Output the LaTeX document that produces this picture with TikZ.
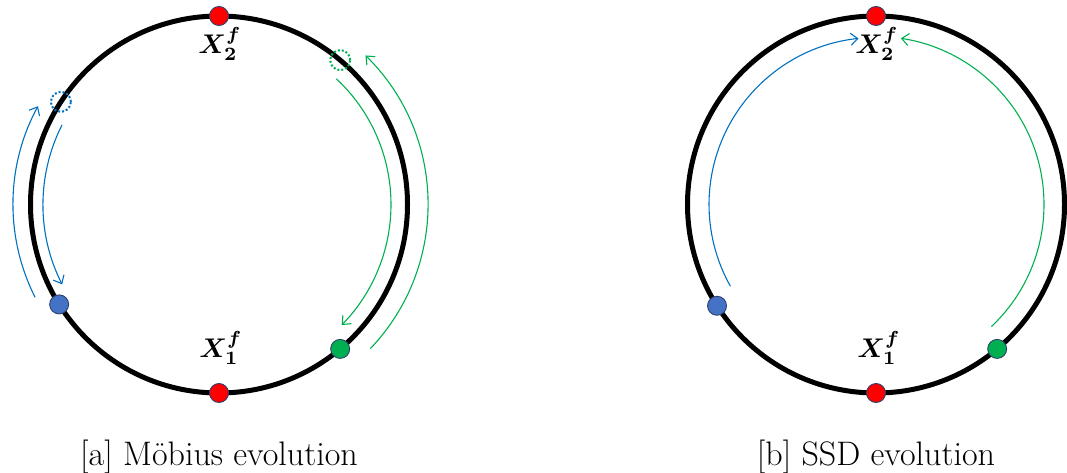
\documentclass[tikz,border=0pt]{standalone}
\usepackage{fontspec}
\usetikzlibrary{arrows.meta,calc}
\definecolor{dotred}{HTML}{FF0000}
\definecolor{dotblue}{HTML}{4472C4}
\definecolor{dotgreen}{HTML}{00B050}
\definecolor{dotedge}{HTML}{2F3F6F}
\definecolor{arrblue}{HTML}{0070C0}
\definecolor{arrgreen}{HTML}{00B050}
\begin{document}
\begin{tikzpicture}[x=1pt,y=1pt,
  ring/.style={line width=5pt,draw=black},
  dotnode/.style={circle,draw=dotedge,line width=0.9pt,minimum size=19pt,inner sep=0pt},
  ghost/.style={circle,draw=#1,dotted,line width=2pt,minimum size=20pt,inner sep=0pt},
  trail/.style={line width=1.1pt,draw=#1,-{Straight Barb[length=7pt,width=12pt]}},
  lab/.style={inner sep=0pt,font=\boldmath,scale=2.7,transform shape},
  captext/.style={inner sep=0pt,font=\fontsize{34}{40}\selectfont}]
\useasboundingbox (0,0) rectangle (1067,472);
% centres
\coordinate (L) at (219,267.5);
\coordinate (R) at (876,267.5);
\draw[ring] (L) circle[radius=188.5];
\draw[ring] (R) circle[radius=188.5];
% ---------- left ----------
\draw[trail=arrblue] ($(L)+(206.8:206)$) arc[start angle=206.8,end angle=151.5,radius=206];
\draw[trail=arrblue] ($(L)+(153.1:176)$) arc[start angle=153.1,end angle=207,radius=176];
\draw[trail=arrgreen] ($(L)+(47:172)$) arc[start angle=47,end angle=-44.5,radius=172];
\draw[trail=arrgreen] ($(L)+(-43.6:209)$) arc[start angle=-43.6,end angle=45.5,radius=209];
\node[ghost=arrblue] (gb) at ($(L)+(147:188.5)$) {};
\node[ghost=arrgreen] (gg) at ($(L)+(50:188.5)$) {};
\node[dotnode,fill=dotred] (lt) at ($(L)+(90:188.5)$) {};
\node[dotnode,fill=dotred] (lb) at ($(L)+(270:188.5)$) {};
\node[dotnode,fill=dotblue] (lbl) at ($(L)+(212:188.5)$) {};
\node[dotnode,fill=dotgreen] (lgr) at ($(L)+(-50:188.5)$) {};
\node[lab] (lx2) at (220,428) {$X_2^f$};
\node[lab] (lx1) at (221,124) {$X_1^f$};
\node[captext] (capa) at (219,15) {[a] Möbius evolution};
% ---------- right ----------
\draw[trail=arrblue] ($(R)+(209.3:167)$) arc[start angle=209.3,end angle=96,radius=167];
\draw[trail=arrgreen] ($(R)+(-46.6:168)$) arc[start angle=-46.6,end angle=81.5,radius=168];
\node[dotnode,fill=dotred] (rt) at ($(R)+(90:188.5)$) {};
\node[dotnode,fill=dotred] (rb) at ($(R)+(270:188.5)$) {};
\node[dotnode,fill=dotblue] (rbl) at ($(R)+(212.5:188.5)$) {};
\node[dotnode,fill=dotgreen] (rgr) at ($(R)+(-50:188.5)$) {};
\node[lab] (rx2) at (877,428) {$X_2^f$};
\node[lab] (rx1) at (879,124) {$X_1^f$};
\node[captext] (capb) at (876,15) {[b] SSD evolution};
\end{tikzpicture}
\end{document}
